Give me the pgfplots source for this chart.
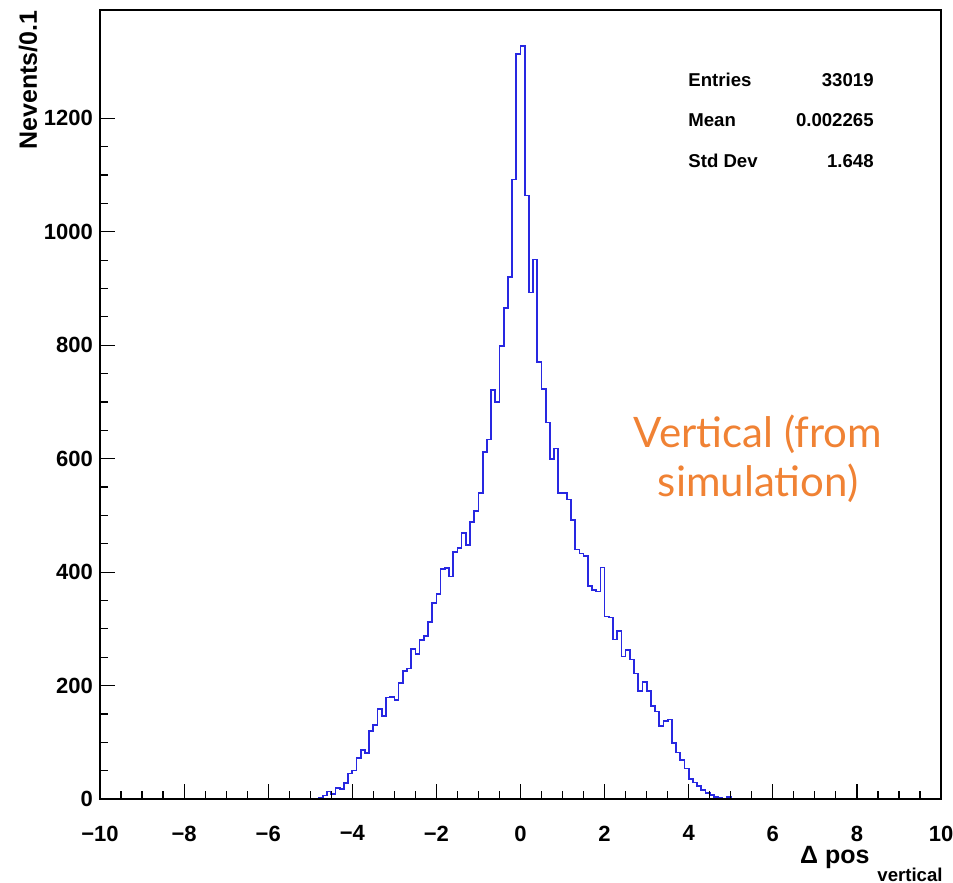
\documentclass[border=0pt]{standalone}
\usepackage{fontspec}
\setmainfont{Liberation Sans}
\newfontfamily\gill{Lato}
\usepackage{pgfplots}
\pgfplotsset{compat=1.18}
\definecolor{histblue}{RGB}{40,40,225}
\definecolor{vorange}{RGB}{240,130,52}
\begin{document}
\begin{tikzpicture}
\useasboundingbox (-50pt,-42pt) rectangle (426.5pt,399.5pt);
\begin{axis}[
  scale only axis,
  axis on top,
  width=420.5pt, height=394.5pt,
  xmin=-10, xmax=10, ymin=0, ymax=1391,
  axis line style={line width=0.7pt},
  tick style={black, line width=0.6pt},
  tick align=inside,
  tick pos=left,
  major tick length=7.5pt,
  minor tick length=3.8pt,
  xtick={-10,-8,-6,-4,-2,0,2,4,6,8,10},
  xticklabels={−10,−8,−6,−4,−2,0,2,4,6,8,10},
  minor x tick num=3,
  ytick={0,200,400,600,800,1000,1200},
  minor y tick num=3,
  /pgf/number format/assume math mode=true,
  /pgf/number format/1000 sep={},
  ticklabel style={font=\fontsize{11}{13}\selectfont\bfseries},
  xticklabel style={yshift=-9.8pt},
]
\addplot[const plot, histblue, line width=0.85pt] table {
x y
-10 0
-8.4 1
-8.3 0
-7.7 1
-7.6 0
-7.1 1
-6.7 0
-6.0 1
-5.9 0
-5.6 1
-5.4 0
-5.2 1
-5.0 0
-4.9 1
-4.8 2
-4.7 6
-4.6 13
-4.5 9
-4.4 20
-4.3 18
-4.2 28
-4.1 45
-4.0 50
-3.9 72
-3.8 87
-3.7 81
-3.6 120
-3.5 130
-3.4 159
-3.3 146
-3.2 179
-3.1 180
-3.0 174
-2.9 204
-2.8 226
-2.7 230
-2.6 264
-2.5 256
-2.4 280
-2.3 287
-2.2 312
-2.1 345
-2.0 362
-1.9 405
-1.8 407
-1.7 392
-1.6 436
-1.5 442
-1.4 469
-1.3 448
-1.2 488
-1.1 508
-1.0 540
-0.9 612
-0.8 634
-0.7 721
-0.6 700
-0.5 799
-0.4 866
-0.3 920
-0.2 1092
-0.1 1313
0.0 1328
0.1 1064
0.2 893
0.3 951
0.4 770
0.5 723
0.6 664
0.7 600
0.8 618
0.9 540
1.0 540
1.1 528
1.2 492
1.3 440
1.4 433
1.5 429
1.6 376
1.7 369
1.8 366
1.9 408
2.0 322
2.1 320
2.2 281
2.3 296
2.4 251
2.5 263
2.6 246
2.7 221
2.8 190
2.9 206
3.0 190
3.1 164
3.2 154
3.3 129
3.4 138
3.5 140
3.6 99
3.7 82
3.8 69
3.9 54
4.0 35
4.1 29
4.2 23
4.3 16
4.4 11
4.5 7
4.6 4
4.7 2
4.8 1
4.9 3
5.0 1
5.1 0
5.6 1
5.8 0
5.9 1
6.0 0
6.3 1
6.5 0
7.0 1
7.2 0
7.3 1
7.6 0
8.2 1
8.3 0
10 0
};
\end{axis}
% y label
\node[rotate=90, anchor=east, inner sep=0pt, font=\fontsize{12.5}{14}\selectfont\bfseries] at (-36pt,394.5pt) {Nevents/0.1};
% x label
\node[anchor=base east, inner sep=0pt, font=\fontsize{12.5}{14}\selectfont\bfseries] at (385pt,-32.5pt) {Δ pos};
\node[anchor=base east, inner sep=0pt, font=\fontsize{9.3}{11}\selectfont\bfseries] at (421.5pt,-41.5pt) {vertical};
% stats box
\begin{scope}[every node/.style={inner sep=0pt, font=\fontsize{9.3}{11}\selectfont\bfseries}]
\node[anchor=base west] at (294pt,356pt) {Entries};
\node[anchor=base east] at (387pt,356pt) {33019};
\node[anchor=base west] at (294pt,336pt) {Mean};
\node[anchor=base east] at (387pt,336pt) {0.002265};
\node[anchor=base west] at (294pt,315.5pt) {Std Dev};
\node[anchor=base east] at (387pt,315.5pt) {1.648};
\end{scope}
% annotation
\node[anchor=base, inner sep=0pt, text=vorange, font=\gill\fontsize{21}{24}\selectfont] at (329pt,175.5pt) {Vertical (from};
\node[anchor=base, inner sep=0pt, text=vorange, font=\gill\fontsize{21}{24}\selectfont] at (329pt,151pt) {simulation)};
\end{tikzpicture}
\end{document}
